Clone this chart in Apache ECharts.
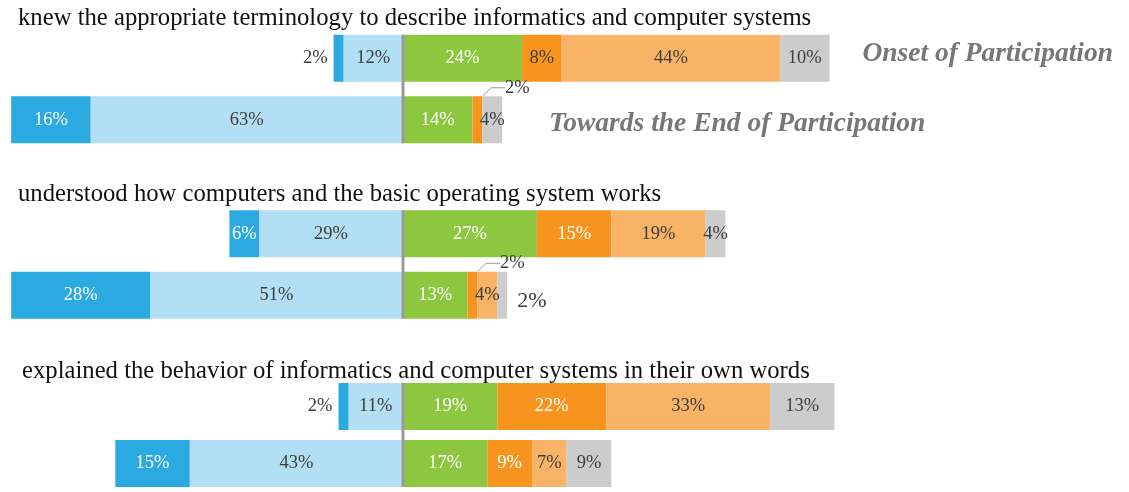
<!DOCTYPE html>
<html>
<head>
<meta charset="utf-8">
<script src="https://cdn.jsdelivr.net/npm/echarts@6/dist/echarts.min.js"></script>
<style>html,body{margin:0;padding:0;background:#fff}#c{width:1129px;height:492px}</style>
</head>
<body>
<div id="c"></div>
<script>
// ---- data ----
const questions = [
  'knew the appropriate terminology to describe informatics and computer systems',
  'understood how computers and the basic operating system works',
  'explained the behavior of informatics and computer systems in their own words'
];
const periods = ['Onset of Participation', 'Towards the End of Participation'];
// values per question: [Q1 onset, Q1 end, Q2 onset, Q2 end, Q3 onset, Q3 end]
const darkBlue    = [2, 16, 6, 28, 2, 15];
const lightBlue   = [12, 63, 29, 51, 11, 43];
const green       = [24, 14, 27, 13, 19, 17];
const orange      = [8, 2, 15, 2, 22, 9];
const lightOrange = [44, 0, 19, 4, 33, 7];
const gray        = [10, 4, 4, 2, 13, 9];

// ---- styling ----
const FONT = 'Liberation Serif';
const BAR_W = 47;
const segs = [
  {key:'lightBlue', vals:lightBlue, color:'#B2DFF3', text:'#3d3d3d', neg:true},
  {key:'darkBlue', vals:darkBlue, color:'#2AAAE1', text:'#ffffff', neg:true},
  {key:'green', vals:green, color:'#8DC63F', text:'#ffffff', neg:false},
  {key:'orange', vals:orange, color:'#F7941E', text:'#ffffff', neg:false},
  {key:'lightOrange', vals:lightOrange, color:'#F9B366', text:'#3d3d3d', neg:false},
  {key:'gray', vals:gray, color:'#CCCCCC', text:'#3d3d3d', neg:false}
];

const gridTops = [27.5, 203, 378];
const grids = [], xAxes = [], yAxes = [], series = [], titles = [];
const titleTops = [6, 182, 359];
const titleLefts = [18, 18, 22];

questions.forEach((q, gi) => {
  grids.push({left: 6.2, right: 31.6, top: gridTops[gi], height: 123});
  xAxes.push({type:'value', gridIndex: gi, min:-80, max:140, show:false});
  yAxes.push({type:'category', gridIndex: gi, data: periods, inverse:true, show:false});
  titles.push({text: q, left: titleLefts[gi], top: titleTops[gi], padding:0,
    textStyle:{fontFamily: FONT, fontSize: 24.7, fontWeight:'normal', color:'#111'}});
  segs.forEach((s, si) => {
    const data = [0, 1].map(pi => {
      const v = s.vals[gi*2 + pi];
      const item = {value: s.neg ? -v : v};
      const lbl = {};
      if (v === 0) { lbl.show = false; }
      else if (v <= 2 && s.key === 'darkBlue') { lbl.position = 'left'; lbl.color = '#3d3d3d'; lbl.distance = 6; }
      else if (v <= 2 && s.key === 'orange') { lbl.position = 'inside'; lbl.color = '#3d3d3d'; }
      else if (v <= 2 && s.key === 'gray') { lbl.position = 'right'; lbl.color = '#3d3d3d'; lbl.distance = 10; lbl.fontSize = 22; lbl.offset = [0, 6]; }
      if (s.key === 'orange' && gi === 0 && pi === 0) lbl.color = '#3d3d3d';
      item.label = lbl;
      return item;
    });
    const ser = {
      type:'bar', name: s.key, xAxisIndex: gi, yAxisIndex: gi, stack:'s'+gi,
      barWidth: BAR_W, data,
      itemStyle:{color: s.color},
      label:{show:true, position:'inside', color: s.text, fontFamily: FONT, fontSize: 18.5,
        formatter: p => Math.abs(p.value) + '%'},
      silent:true, animation:false
    };
    if (s.key === 'orange') {
      ser.labelLine = {show:true, length2: 14, lineStyle:{color:'#999', width:1}};
      ser.labelLayout = function (p) {
        if (p.dataIndex === 1 && orange[gi*2+1] <= 2) {
          return {dx: 40, dy: -32};
        }
        return {};
      };
    }
    series.push(ser);
  });
  // center (zero) line spanning both bars of the group
  series.push({
    type:'custom', xAxisIndex: gi, yAxisIndex: gi, data:[[0]], silent:true, z: 5,
    renderItem: function (params, api) {
      const a = api.coord([0, 0]);
      const b = api.coord([0, 1]);
      return {type:'line', shape:{x1:a[0], y1:a[1]-BAR_W/2, x2:b[0], y2:b[1]+BAR_W/2},
        style:{stroke:'#9a9a9a', lineWidth:3}};
    }
  });
});

titles.push({text: periods[0], right: 16, top: 40, padding:0,
  textStyle:{fontFamily: FONT, fontSize: 27.5, fontWeight:'bold', fontStyle:'italic', color:'#777'}});
titles.push({text: periods[1], left: 549, top: 110, padding:0,
  textStyle:{fontFamily: FONT, fontSize: 27.5, fontWeight:'bold', fontStyle:'italic', color:'#777'}});

const chart = echarts.init(document.getElementById('c'), null, {renderer:'canvas'});
chart.setOption({
  animation:false,
  title: titles,
  grid: grids,
  xAxis: xAxes,
  yAxis: yAxes,
  series
});
</script>
</body>
</html>
